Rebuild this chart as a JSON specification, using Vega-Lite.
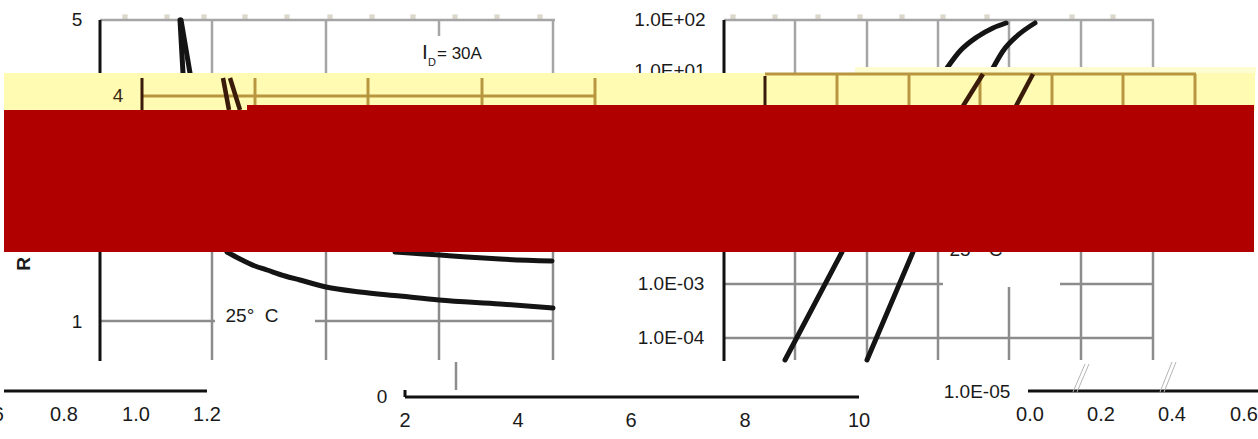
{
  "$schema": "https://vega.github.io/schema/vega-lite/v6.json",
  "width": 1258,
  "height": 439,
  "padding": 0,
  "autosize": {"type": "none"},
  "background": "white",
  "config": {"view": {"stroke": null}},
  "datasets": {
    "markers": [
      {"x": 125, "y": 17}, {"x": 167, "y": 17}, {"x": 204, "y": 17}, {"x": 245, "y": 17}, {"x": 287, "y": 17},
      {"x": 330, "y": 17}, {"x": 372, "y": 17}, {"x": 413, "y": 17}, {"x": 455, "y": 17}, {"x": 497, "y": 17},
      {"x": 540, "y": 17}, {"x": 733, "y": 17}, {"x": 775, "y": 17}, {"x": 818, "y": 17}, {"x": 860, "y": 17},
      {"x": 902, "y": 17}, {"x": 943, "y": 17}, {"x": 987, "y": 17}, {"x": 1072, "y": 17}, {"x": 1113, "y": 17}
    ],
    "gridTop": [
      {"x": 100, "y": 20, "x2": 555, "y2": 20},
      {"x": 724, "y": 20, "x2": 1154, "y2": 20},
      {"x": 212, "y": 20, "x2": 212, "y2": 73},
      {"x": 326, "y": 20, "x2": 326, "y2": 73},
      {"x": 439, "y": 20, "x2": 439, "y2": 36},
      {"x": 553, "y": 20, "x2": 553, "y2": 73},
      {"x": 795, "y": 20, "x2": 795, "y2": 73},
      {"x": 867, "y": 20, "x2": 867, "y2": 73},
      {"x": 938, "y": 20, "x2": 938, "y2": 73},
      {"x": 1009, "y": 20, "x2": 1009, "y2": 73},
      {"x": 1081, "y": 20, "x2": 1081, "y2": 73},
      {"x": 1153, "y": 20, "x2": 1153, "y2": 73}
    ],
    "gridBottom": [
      {"x": 100, "y": 321, "x2": 215, "y2": 321},
      {"x": 315, "y": 321, "x2": 553, "y2": 321},
      {"x": 212, "y": 252, "x2": 212, "y2": 360},
      {"x": 326, "y": 252, "x2": 326, "y2": 360},
      {"x": 439, "y": 252, "x2": 439, "y2": 360},
      {"x": 553, "y": 252, "x2": 553, "y2": 360},
      {"x": 456, "y": 362, "x2": 456, "y2": 390},
      {"x": 724, "y": 284, "x2": 943, "y2": 284},
      {"x": 1060, "y": 284, "x2": 1153, "y2": 284},
      {"x": 724, "y": 338, "x2": 1153, "y2": 338},
      {"x": 795, "y": 252, "x2": 795, "y2": 360},
      {"x": 867, "y": 252, "x2": 867, "y2": 360},
      {"x": 938, "y": 252, "x2": 938, "y2": 360},
      {"x": 1009, "y": 287, "x2": 1009, "y2": 360},
      {"x": 1081, "y": 252, "x2": 1081, "y2": 360},
      {"x": 1153, "y": 252, "x2": 1153, "y2": 360}
    ],
    "whiteBox": [{"x": 943, "y": 252, "x2": 1060, "y2": 283}],
    "axisBlack": [
      {"x": 100, "y": 20, "x2": 100, "y2": 73},
      {"x": 724, "y": 20, "x2": 724, "y2": 73},
      {"x": 100, "y": 252, "x2": 100, "y2": 361},
      {"x": 724, "y": 252, "x2": 724, "y2": 361},
      {"x": 4, "y": 391, "x2": 207, "y2": 391},
      {"x": 405, "y": 397, "x2": 859, "y2": 397},
      {"x": 405, "y": 390, "x2": 405, "y2": 397},
      {"x": 1028, "y": 391, "x2": 1258, "y2": 391}
    ],
    "breaks": [
      {"x": 1073, "y": 392, "x2": 1085, "y2": 364},
      {"x": 1077, "y": 392, "x2": 1089, "y2": 364},
      {"x": 1160, "y": 392, "x2": 1172, "y2": 362},
      {"x": 1164, "y": 392, "x2": 1176, "y2": 362}
    ],
    "curves": [
      {"s": "a", "i": 0, "x": 180, "y": 20}, {"s": "a", "i": 1, "x": 183, "y": 73},
      {"s": "b", "i": 0, "x": 181, "y": 20}, {"s": "b", "i": 1, "x": 190, "y": 73},
      {"s": "c", "i": 0, "x": 947, "y": 68}, {"s": "c", "i": 1, "x": 960, "y": 51}, {"s": "c", "i": 2, "x": 977, "y": 37}, {"s": "c", "i": 3, "x": 993, "y": 28}, {"s": "c", "i": 4, "x": 1006, "y": 23},
      {"s": "d", "i": 0, "x": 993, "y": 68}, {"s": "d", "i": 1, "x": 1003, "y": 51}, {"s": "d", "i": 2, "x": 1017, "y": 36}, {"s": "d", "i": 3, "x": 1035, "y": 23},
      {"s": "e", "i": 0, "x": 227, "y": 252}, {"s": "e", "i": 1, "x": 240, "y": 259}, {"s": "e", "i": 2, "x": 255, "y": 266}, {"s": "e", "i": 3, "x": 267, "y": 270}, {"s": "e", "i": 4, "x": 285, "y": 276}, {"s": "e", "i": 5, "x": 300, "y": 280}, {"s": "e", "i": 6, "x": 326, "y": 287}, {"s": "e", "i": 7, "x": 360, "y": 292}, {"s": "e", "i": 8, "x": 400, "y": 296}, {"s": "e", "i": 9, "x": 439, "y": 300}, {"s": "e", "i": 10, "x": 500, "y": 304}, {"s": "e", "i": 11, "x": 553, "y": 308},
      {"s": "f", "i": 0, "x": 395, "y": 252}, {"s": "f", "i": 1, "x": 410, "y": 253}, {"s": "f", "i": 2, "x": 440, "y": 255}, {"s": "f", "i": 3, "x": 467, "y": 257}, {"s": "f", "i": 4, "x": 500, "y": 259}, {"s": "f", "i": 5, "x": 552, "y": 261},
      {"s": "g", "i": 0, "x": 842, "y": 252}, {"s": "g", "i": 1, "x": 785, "y": 360},
      {"s": "h", "i": 0, "x": 913, "y": 252}, {"s": "h", "i": 1, "x": 867, "y": 360}
    ],
    "t19": [
      {"x": 77, "y": 20, "t": "5"},
      {"x": 77, "y": 322, "t": "1"},
      {"x": 670, "y": 20, "t": "1.0E+02"},
      {"x": 670, "y": 71, "t": "1.0E+01"},
      {"x": 671, "y": 284, "t": "1.0E-03"},
      {"x": 671, "y": 338, "t": "1.0E-04"},
      {"x": 977, "y": 392, "t": "1.0E-05"},
      {"x": 382, "y": 397, "t": "0"},
      {"x": 252, "y": 316, "t": "25° \u00a0C"},
      {"x": 976, "y": 250, "t": "25° \u00a0C"}
    ],
    "t20": [
      {"x": -10, "y": 415, "t": "0.6"},
      {"x": 64, "y": 415, "t": "0.8"},
      {"x": 136, "y": 415, "t": "1.0"},
      {"x": 207, "y": 415, "t": "1.2"},
      {"x": 405, "y": 421, "t": "2"},
      {"x": 518, "y": 421, "t": "4"},
      {"x": 631, "y": 421, "t": "6"},
      {"x": 745, "y": 421, "t": "8"},
      {"x": 859, "y": 421, "t": "10"},
      {"x": 1030, "y": 415, "t": "0.0"},
      {"x": 1101, "y": 415, "t": "0.2"},
      {"x": 1172, "y": 415, "t": "0.4"},
      {"x": 1244, "y": 415, "t": "0.6"}
    ],
    "tI": [{"x": 425, "y": 53, "t": "I"}],
    "tD": [{"x": 432, "y": 63, "t": "D"}],
    "tEq": [{"x": 437, "y": 54, "t": "= 30A"}],
    "tR": [{"x": 24, "y": 264, "t": "R"}],
    "yellowLight": [{"x": 855, "y": 67, "x2": 1256, "y2": 74}],
    "yellow": [{"x": 4, "y": 73, "x2": 1255, "y2": 110}],
    "tanRules": [
      {"x": 142, "y": 96, "x2": 595, "y2": 96},
      {"x": 255, "y": 78, "x2": 255, "y2": 106},
      {"x": 368, "y": 78, "x2": 368, "y2": 106},
      {"x": 482, "y": 78, "x2": 482, "y2": 106},
      {"x": 595, "y": 78, "x2": 595, "y2": 106},
      {"x": 765, "y": 74, "x2": 1196, "y2": 74},
      {"x": 837, "y": 74, "x2": 837, "y2": 106},
      {"x": 909, "y": 74, "x2": 909, "y2": 106},
      {"x": 980, "y": 74, "x2": 980, "y2": 106},
      {"x": 1052, "y": 74, "x2": 1052, "y2": 106},
      {"x": 1123, "y": 74, "x2": 1123, "y2": 106},
      {"x": 1195, "y": 74, "x2": 1195, "y2": 106}
    ],
    "brownRules": [
      {"x": 142, "y": 78, "x2": 142, "y2": 110},
      {"x": 765, "y": 76, "x2": 765, "y2": 108}
    ],
    "brownLines": [
      {"s": "a", "i": 0, "x": 223, "y": 78}, {"s": "a", "i": 1, "x": 229, "y": 110},
      {"s": "b", "i": 0, "x": 230, "y": 78}, {"s": "b", "i": 1, "x": 240, "y": 110},
      {"s": "c", "i": 0, "x": 983, "y": 74}, {"s": "c", "i": 1, "x": 963, "y": 106},
      {"s": "d", "i": 0, "x": 1033, "y": 74}, {"s": "d", "i": 1, "x": 1016, "y": 106}
    ],
    "t4": [{"x": 118, "y": 96, "t": "4"}],
    "red": [
      {"x": 4, "y": 110, "x2": 247, "y2": 252},
      {"x": 247, "y": 105, "x2": 1254, "y2": 252}
    ]
  },
  "encoding": {
    "x": {"field": "x", "type": "quantitative", "scale": {"domain": [0, 1258], "nice": false, "zero": false}, "axis": null},
    "y": {"field": "y", "type": "quantitative", "scale": {"domain": [0, 439], "nice": false, "zero": false, "reverse": true}, "axis": null}
  },
  "layer": [
    {"data": {"name": "markers"}, "mark": {"type": "point", "shape": "square", "filled": true, "size": 28, "color": "#dcd9cc", "opacity": 1}},
    {"data": {"name": "gridTop"}, "mark": {"type": "rule", "color": "#a5a5a5", "strokeWidth": 2.5}, "encoding": {"x2": {"field": "x2"}, "y2": {"field": "y2"}}},
    {"data": {"name": "gridBottom"}, "mark": {"type": "rule", "color": "#8c8c8c", "strokeWidth": 2.5}, "encoding": {"x2": {"field": "x2"}, "y2": {"field": "y2"}}},
    {"data": {"name": "whiteBox"}, "mark": {"type": "rect", "color": "white"}, "encoding": {"x2": {"field": "x2"}, "y2": {"field": "y2"}}},
    {"data": {"name": "axisBlack"}, "mark": {"type": "rule", "color": "#111111", "strokeWidth": 3}, "encoding": {"x2": {"field": "x2"}, "y2": {"field": "y2"}}},
    {"data": {"name": "breaks"}, "mark": {"type": "rule", "color": "#b5b5b5", "strokeWidth": 1}, "encoding": {"x2": {"field": "x2"}, "y2": {"field": "y2"}}},
    {"data": {"name": "curves"}, "mark": {"type": "line", "color": "#141414", "strokeWidth": 5, "strokeCap": "round", "interpolate": "monotone"}, "encoding": {"detail": {"field": "s"}, "order": {"field": "i"}}},
    {"data": {"name": "t19"}, "mark": {"type": "text", "font": "Liberation Sans", "fontSize": 19, "color": "#1a1a1a"}, "encoding": {"text": {"field": "t"}}},
    {"data": {"name": "t20"}, "mark": {"type": "text", "font": "Liberation Sans", "fontSize": 20, "color": "#1a1a1a"}, "encoding": {"text": {"field": "t"}}},
    {"data": {"name": "tI"}, "mark": {"type": "text", "font": "Liberation Sans", "fontSize": 21, "color": "#1a1a1a"}, "encoding": {"text": {"field": "t"}}},
    {"data": {"name": "tD"}, "mark": {"type": "text", "font": "Liberation Sans", "fontSize": 11, "color": "#1a1a1a"}, "encoding": {"text": {"field": "t"}}},
    {"data": {"name": "tEq"}, "mark": {"type": "text", "font": "Liberation Sans", "fontSize": 17, "color": "#1a1a1a", "align": "left"}, "encoding": {"text": {"field": "t"}}},
    {"data": {"name": "tR"}, "mark": {"type": "text", "font": "Liberation Sans", "fontSize": 19, "fontWeight": "bold", "angle": 270, "color": "#1a1a1a"}, "encoding": {"text": {"field": "t"}}},
    {"data": {"name": "yellowLight"}, "mark": {"type": "rect", "color": "#fdfcd2"}, "encoding": {"x2": {"field": "x2"}, "y2": {"field": "y2"}}},
    {"data": {"name": "yellow"}, "mark": {"type": "rect", "color": "#fffbb3"}, "encoding": {"x2": {"field": "x2"}, "y2": {"field": "y2"}}},
    {"data": {"name": "tanRules"}, "mark": {"type": "rule", "color": "#b8963f", "strokeWidth": 3}, "encoding": {"x2": {"field": "x2"}, "y2": {"field": "y2"}}},
    {"data": {"name": "brownRules"}, "mark": {"type": "rule", "color": "#3a1a08", "strokeWidth": 3}, "encoding": {"x2": {"field": "x2"}, "y2": {"field": "y2"}}},
    {"data": {"name": "brownLines"}, "mark": {"type": "line", "color": "#3a1a08", "strokeWidth": 4.5}, "encoding": {"detail": {"field": "s"}, "order": {"field": "i"}}},
    {"data": {"name": "t4"}, "mark": {"type": "text", "font": "Liberation Sans", "fontSize": 19, "color": "#3a2a10"}, "encoding": {"text": {"field": "t"}}},
    {"data": {"name": "red"}, "mark": {"type": "rect", "color": "#b00000"}, "encoding": {"x2": {"field": "x2"}, "y2": {"field": "y2"}}}
  ]
}
